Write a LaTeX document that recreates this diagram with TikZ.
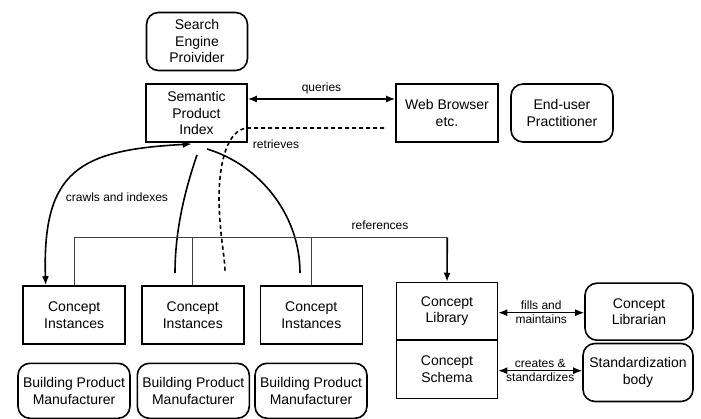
\documentclass[tikz,border=0pt]{standalone}
\usepackage{fontspec}
\setmainfont{Liberation Sans}
\usetikzlibrary{positioning,arrows.meta}

\tikzset{
  box/.style={draw, line width=1.6pt, minimum width=101pt, minimum height=58pt,
    align=center, inner sep=0pt, font=\fontsize{14}{16.5}\selectfont},
  role/.style={box, rounded corners=12pt},
  lbl/.style={font=\fontsize{12}{14}\selectfont, align=center, inner sep=1pt},
  link/.style={line width=1.6pt},
  tip/.tip={Latex[length=9pt,width=7pt]},
}

\begin{document}
\begin{tikzpicture}[x=1pt,y=-1pt]
  \useasboundingbox (0,0) rectangle (701,419);

  \node[role] (provider) at (197,41.5) {Search\\Engine\\Proivider};
  \node[box] (index) at (196.5,113) {Semantic\\Product\\Index};
  \node[box, minimum width=102pt] (browser) at (447,113) {Web Browser\\etc.};
  \node[role, minimum width=102pt] (enduser) at (562,113) {End-user\\Practitioner};

  \node[box, minimum width=102pt] (inst1) at (74.2,315) {Concept\\Instances};
  \node[box, minimum width=102pt] (inst2) at (192.8,315) {Concept\\Instances};
  \node[box, minimum width=102pt] (inst3) at (311.3,315) {Concept\\Instances};

  \node[role, minimum width=112pt, minimum height=55pt] (maker1) at (74,390.8) {Building Product\\Manufacturer};
  \node[role, minimum width=112pt, minimum height=55pt] (maker2) at (193.3,390.8) {Building Product\\Manufacturer};
  \node[role, minimum width=112pt, minimum height=55pt] (maker3) at (311,390.8) {Building Product\\Manufacturer};

  \node[box, minimum height=57.5pt] (library) at (447,311.3) {Concept\\Library};
  \node[box, minimum height=58pt] (schema) at (447,369.3) {Concept\\Schema};
  \node[role, minimum width=108pt, minimum height=57pt] (librarian) at (639,311.7) {Concept\\Librarian};
  \node[role, minimum width=110pt, minimum height=58pt] (stdbody) at (638,372.5) {Standardization\\body};

  \coordinate (crawlin) at (191.7,144);
  \coordinate (feed2top) at (197,155);
  \coordinate (feed2end) at (175,273);
  \coordinate (feed3top) at (207,149);
  \coordinate (feed3end) at (300,273);
  \coordinate (fetchend) at (225,273);
  \coordinate (refcorner) at (447.3,237.3);

  \draw[link, tip-tip] ([yshift=14pt]index.east) -- ([yshift=14pt]browser.west)
    node[midway, lbl, above=3pt] (queries) {queries};

  \draw[link, dash pattern=on 4pt off 3pt] ([xshift=-11pt,yshift=-15pt]browser.west) -- (247,128)
    .. controls (228,130) and (219,160) .. (219,200)
    .. controls (220,240) and (225,255) .. (fetchend);
  \node[lbl] (retrieves) at (276,144) {retrieves};

  \draw[link, tip-tip] ([xshift=-28.5pt]inst1.north) .. controls (42,170) and (80,150) .. (crawlin);
  \node[lbl] (crawls) at (117,197) {crawls and indexes};

  \draw[link] (feed2top) .. controls (185,190) and (175,230) .. (feed2end);
  \draw[link] (feed3top) .. controls (260,165) and (300,215) .. (feed3end);

  \draw[line width=0.9pt, black!75] (inst1.north) |- (refcorner);
  \draw[line width=0.9pt, black!75] (inst2.north) -- (inst2.north |- refcorner);
  \draw[line width=0.9pt, black!75] (inst3.north) -- (inst3.north |- refcorner);
  \draw[link, -tip] (refcorner) -- (library.north);
  \node[lbl] (references) at (380,225) {references};

  \draw[line width=1.3pt, tip-tip] ([yshift=-1.4pt]library.east) -- ([yshift=-1pt]librarian.west)
    node[midway, lbl] (fills) {fills and\\maintains};
  \draw[line width=1.3pt, tip-tip] ([yshift=-1.4pt]schema.east) -- (stdbody.west |- 0,370.7)
    node[midway, lbl] (creates) {creates \&\\standardizes};
\end{tikzpicture}
\end{document}
